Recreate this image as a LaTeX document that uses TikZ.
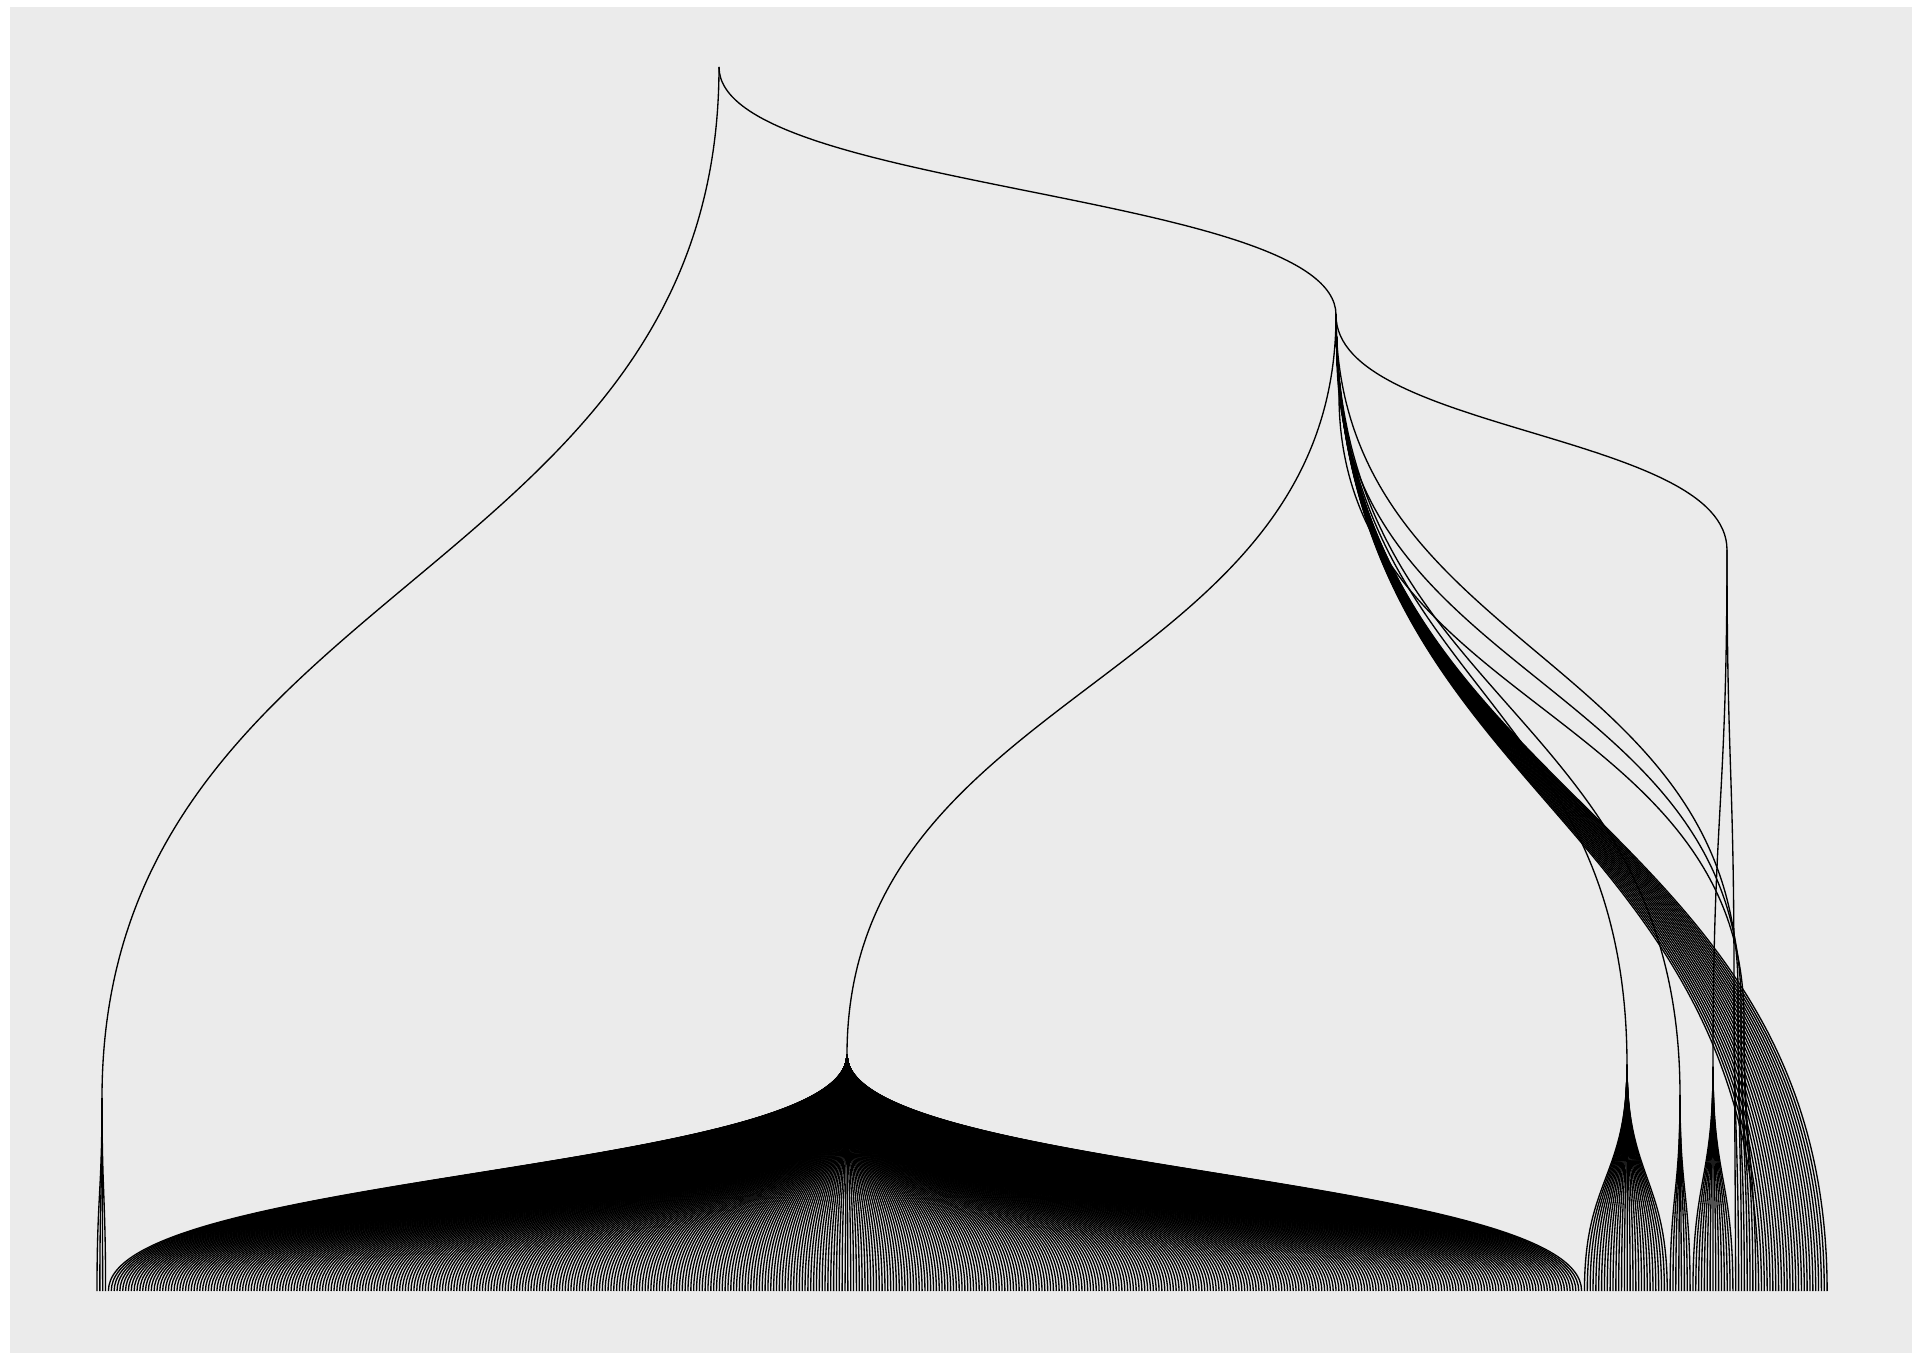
\documentclass[tikz,border=0pt]{standalone}
\usetikzlibrary{calc}
\definecolor{panel}{HTML}{EBEBEB}
\tikzset{dend/.style={draw=black, line width=0.38pt}}
\newcommand\dedge[2]{\path[dend] let \p1=(#1), \p2=(#2) in (\p1) .. controls (\x1,{(\y1+\y2)/2}) and (\x2,{(\y1+\y2)/2}) .. (\p2);}
\begin{document}
\begin{tikzpicture}[x=0.01cm,y=-0.01cm]
\useasboundingbox (0,0) rectangle (1920,1364);
\fill[panel] (10,7) rectangle (1912,1353);
% leaves
\foreach \i in {0,...,606} {\coordinate (lf\i) at ({97+2.855*\i},1291);}
% internal nodes
\coordinate (root) at (719,67);
\coordinate (L) at (102,1098);
\coordinate (B) at (847,1055);
\coordinate (R1) at (1336,315);
\coordinate (K1) at (1337,355);
\coordinate (K2) at (1339,395);
\coordinate (R2) at (1727,550);
\coordinate (C1) at (1627,1065);
\coordinate (C2) at (1680,1095);
\coordinate (D1) at (1713,1067);
\coordinate (E) at (1734,985);
\coordinate (T1) at (1738,990);
\coordinate (T2) at (1741,1005);
\coordinate (T3) at (1744,1020);
% top level
\dedge{root}{L}
\dedge{root}{R1}
% left small cluster
\foreach \i in {0,...,3} {\dedge{L}{lf\i}}
% right subtree
\dedge{R1}{B}
\dedge{R1}{R2}
\dedge{R1}{C1}
\dedge{R1}{C2}
\dedge{R1}{T1}
\dedge{R1}{K1}
\dedge{K1}{K2}
\dedge{K1}{T2}
\dedge{K2}{T3}
\dedge{R2}{D1}
\dedge{R2}{E}
% clusters
\foreach \i in {4,...,520} {\dedge{B}{lf\i}}
\foreach \i in {521,...,550} {\dedge{C1}{lf\i}}
\foreach \i in {551,...,558} {\dedge{C2}{lf\i}}
\foreach \i in {559,...,573} {\dedge{D1}{lf\i}}
\foreach \i in {574,575} {\dedge{E}{lf\i}}
\dedge{T1}{lf576}
\dedge{T1}{lf577}
\dedge{T2}{lf578}
\dedge{T2}{lf579}
\dedge{T3}{lf580}
\dedge{T3}{lf581}
\foreach \i in {582,...,606} {\dedge{R1}{lf\i}}
\end{tikzpicture}
\end{document}
